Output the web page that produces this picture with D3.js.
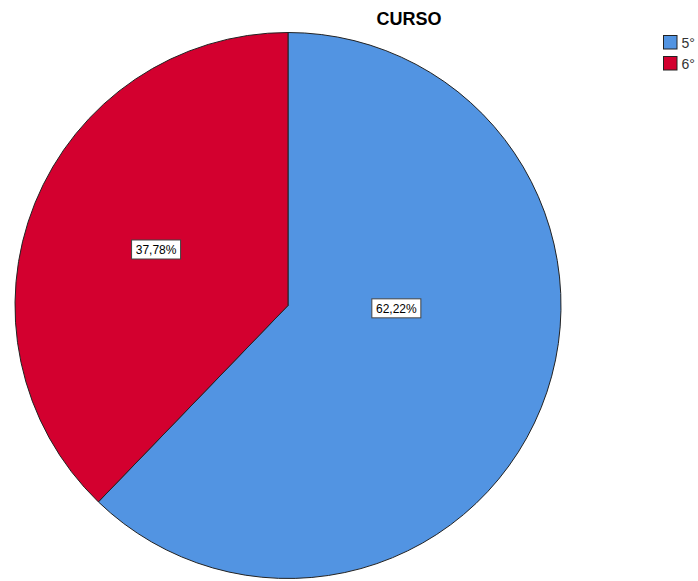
<!DOCTYPE html>
<html>
<head>
<meta charset="utf-8">
<script src="https://cdn.jsdelivr.net/npm/d3@7/dist/d3.min.js"></script>
<style>
  html, body { margin: 0; padding: 0; background: #fff; }
  svg { display: block; }
  text { font-family: "Liberation Sans", Arial, sans-serif; }
</style>
</head>
<body>
<svg id="chart" width="698" height="581"></svg>
<script>
// Course distribution
const categories = ["5°", "6°"];
const percents = [62.22, 37.78];
const labels = ["62,22%", "37,78%"];
const colors = ["#5294E2", "#D3002F"];

// Label anchors (angle in degrees clockwise from 12 o'clock, distance as a fraction of radius)
const labelAnchors = [
  { angle: 91.5, dist: 0.397 },
  { angle: 293, dist: 0.525 }
];

const width = 698, height = 581;
const cx = 288, cy = 305.5, radius = 273;

const svg = d3.select("#chart");

svg.append("text")
  .attr("x", 409)
  .attr("y", 25)
  .attr("text-anchor", "middle")
  .attr("font-size", 18)
  .attr("font-weight", "bold")
  .attr("fill", "#000")
  .text("CURSO");

const data = categories.map((c, i) => ({ cat: c, value: percents[i], label: labels[i], color: colors[i], anchor: labelAnchors[i] }));

const pie = d3.pie().sort(null).value(d => d.value).startAngle(0).endAngle(2 * Math.PI);
const arc = d3.arc().innerRadius(0).outerRadius(radius);

const g = svg.append("g").attr("transform", `translate(${cx},${cy})`);

g.selectAll("path.slice")
  .data(pie(data))
  .join("path")
  .attr("class", "slice")
  .attr("d", arc)
  .attr("fill", d => d.data.color)
  .attr("stroke", "#222")
  .attr("stroke-width", 1)
  .attr("stroke-linejoin", "round");

// Value labels in white boxes
const lab = g.selectAll("g.lab")
  .data(pie(data))
  .join("g")
  .attr("class", "lab")
  .attr("transform", d => {
    const a = d.data.anchor.angle * Math.PI / 180;
    const r = d.data.anchor.dist * radius;
    return `translate(${r * Math.sin(a)},${-r * Math.cos(a)})`;
  });

lab.append("rect")
  .attr("x", -24.5)
  .attr("y", -9.5)
  .attr("width", 49)
  .attr("height", 19)
  .attr("fill", "#fff")
  .attr("stroke", "#444")
  .attr("stroke-width", 1);

lab.append("text")
  .attr("text-anchor", "middle")
  .attr("dy", "0.36em")
  .attr("font-size", 12)
  .attr("fill", "#000")
  .text(d => d.data.label);

// Legend
const leg = svg.append("g").attr("transform", "translate(663.5,35.5)");
const items = leg.selectAll("g")
  .data(data)
  .join("g")
  .attr("transform", (d, i) => `translate(0,${i * 21})`);

items.append("rect")
  .attr("width", 13.5)
  .attr("height", 13.5)
  .attr("fill", d => d.color)
  .attr("stroke", "#222")
  .attr("stroke-width", 1);

items.append("text")
  .attr("x", 18)
  .attr("y", 12)
  .attr("font-size", 14)
  .attr("fill", "#333")
  .text(d => d.cat);
</script>
</body>
</html>
